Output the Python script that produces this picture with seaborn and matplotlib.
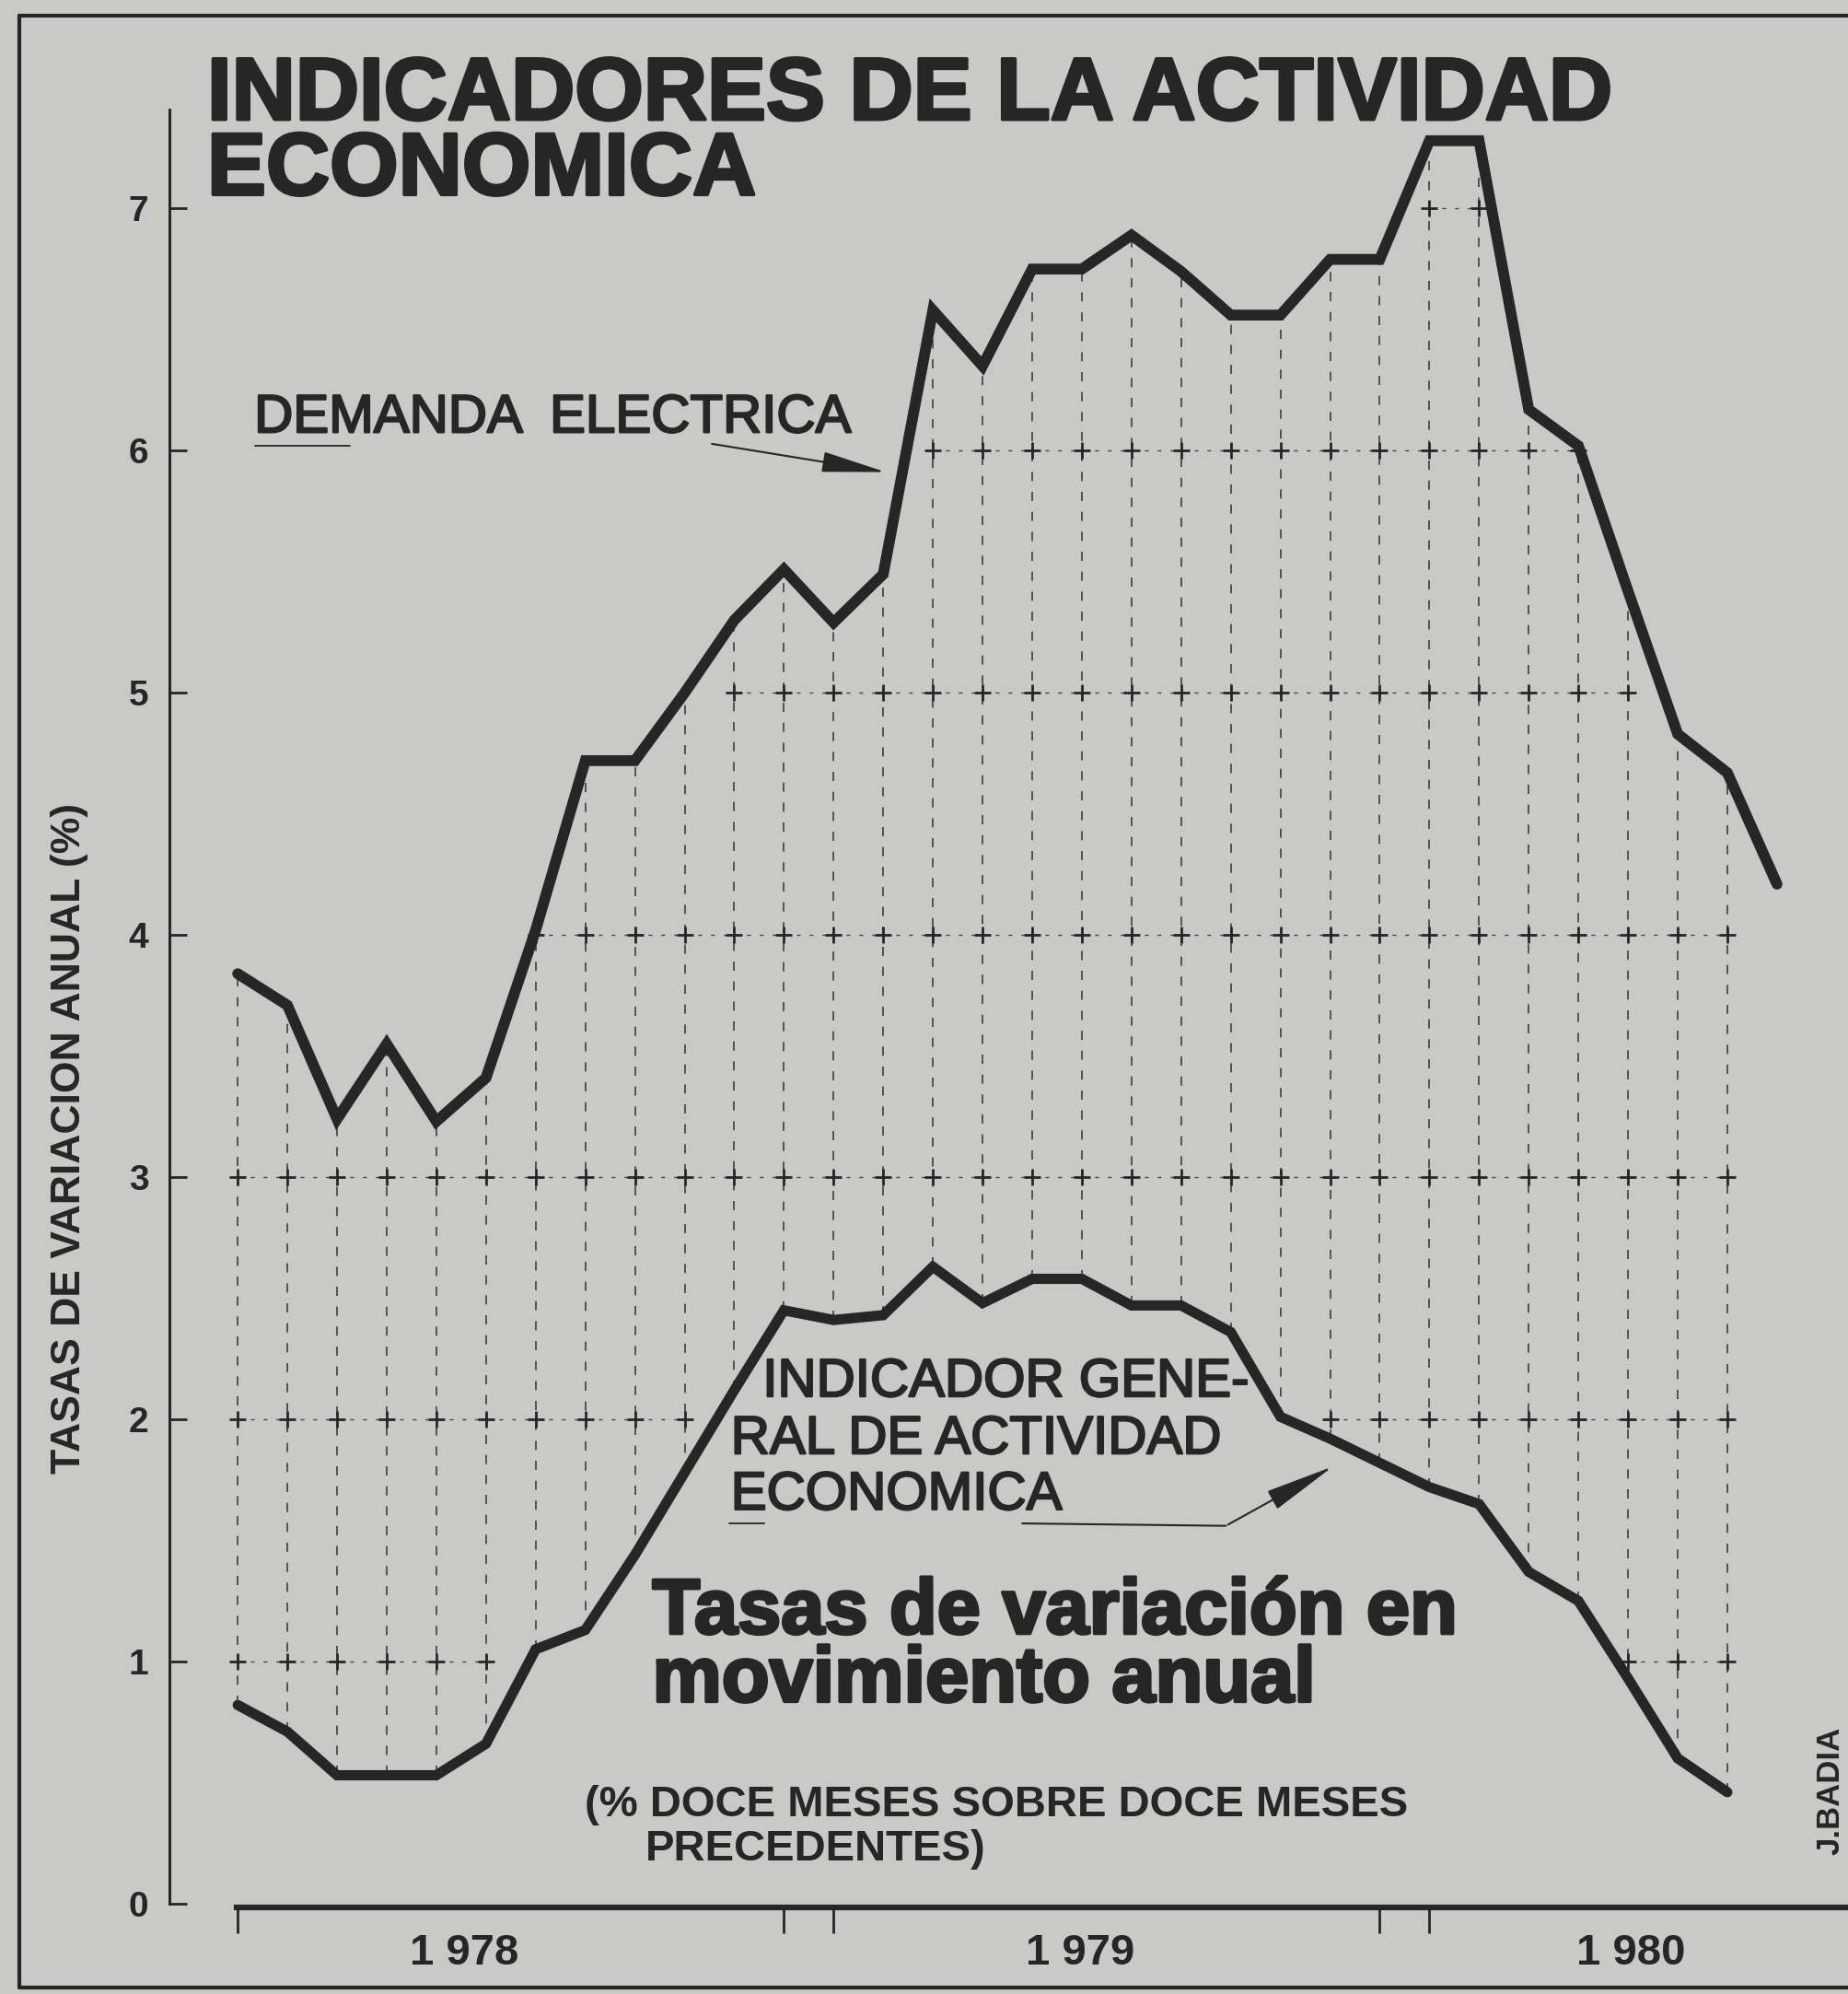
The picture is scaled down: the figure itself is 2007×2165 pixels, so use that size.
import numpy as np
import pandas as pd
import seaborn as sns
import matplotlib.pyplot as plt
import matplotlib.patheffects as pe

# monthly data, Jan 1978 onwards
months = pd.date_range("1978-01-01", periods=32, freq="MS")

demanda = [3.84, 3.71, 3.24, 3.55, 3.23, 3.41, 4.02, 4.72, 4.72, 5.00, 5.30, 5.51,
           5.29, 5.49, 6.58, 6.35, 6.75, 6.75, 6.89, 6.74, 6.56, 6.56, 6.79, 6.79,
           7.28, 7.28, 6.17, 6.02, 5.42, 4.83, 4.67, 4.21]

indicador = [0.82, 0.71, 0.53, 0.53, 0.53, 0.66, 1.05, 1.13, 1.44, 1.78, 2.12, 2.45,
             2.41, 2.43, 2.63, 2.48, 2.58, 2.58, 2.47, 2.47, 2.36, 2.01, 1.92, 1.82,
             1.72, 1.65, 1.37, 1.25, 0.93, 0.60, 0.46]

y_ticks = [0, 1, 2, 3, 4, 5, 6, 7]
year_labels = ["1 978", "1 979", "1 980"]
year_pos = [4.56, 16.97, 28.05]
year_ticks = [0, 11, 12, 23, 24]

bg = "#c9c9c7"
ink = "#262626"

sns.set_style("white")
plt.rcParams["font.family"] = ["Liberation Sans", "DejaVu Sans"]

df_dem = pd.DataFrame({"x": np.arange(len(demanda)), "y": demanda})
df_ind = pd.DataFrame({"x": np.arange(len(indicador)), "y": indicador})

fig = plt.figure(figsize=(20.07, 21.65), dpi=100)
fig.patch.set_facecolor(bg)
ax = fig.add_axes([0.0915, 0.0332, 0.9085, 0.9533])
ax.set_facecolor("none")

# hand drawn guide grid between the two curves
for i in range(len(indicador)):
    lo, hi = indicador[i], demanda[i]
    ax.vlines(i, lo, hi, colors=ink, linestyles=(0, (6, 7)), lw=1.2, alpha=0.85, zorder=1)
    for k in y_ticks[1:]:
        if lo < k < hi:
            ax.plot(i, k, marker="+", ms=13, mew=2, color=ink, zorder=1)
            if i + 1 < len(indicador) and indicador[i + 1] < k < demanda[i + 1]:
                ax.hlines(k, i, i + 1, colors=ink, linestyles=(0, (3, 7)), lw=1, alpha=0.8, zorder=1)

sns.lineplot(data=df_dem, x="x", y="y", ax=ax, color=ink, lw=8.5, zorder=3,
             solid_joinstyle="miter", solid_capstyle="round")
sns.lineplot(data=df_ind, x="x", y="y", ax=ax, color=ink, lw=8, zorder=3,
             solid_joinstyle="miter", solid_capstyle="round")

ax.set_xlim(-1.382, 32.43)
ax.set_ylim(-0.1, 7.75)
ax.set_xlabel("")
ax.set_ylabel("")

for s in ["top", "right"]:
    ax.spines[s].set_visible(False)
ax.spines["left"].set_bounds(0, 7.41)
ax.spines["left"].set_linewidth(2.2)
ax.spines["left"].set_color(ink)
ax.spines["bottom"].set_position(("data", -0.015))
ax.spines["bottom"].set_bounds(-0.03, 32.43)
ax.spines["bottom"].set_linewidth(4.5)
ax.spines["bottom"].set_color(ink)

ax.set_yticks(y_ticks)
ax.set_yticklabels([str(v) for v in y_ticks], fontsize=28, fontweight="bold", color=ink)
ax.tick_params(axis="y", direction="in", length=14, width=2, color=ink, pad=16, left=True)

ax.set_xticks(year_ticks)
ax.set_xticklabels([""] * len(year_ticks))
ax.tick_params(axis="x", which="major", direction="out", length=20, width=2, color=ink, bottom=True)
ax.set_xticks(year_pos, minor=True)
ax.set_xticklabels(year_labels, minor=True, fontsize=34, fontweight="bold", color=ink)
ax.tick_params(axis="x", which="minor", length=0, pad=20)

# labels and arrows
ax.annotate("", xy=(13.1, 5.91), xytext=(9.5, 6.03),
            arrowprops=dict(arrowstyle="-|>,head_length=2.2,head_width=0.35",
                            mutation_scale=20, lw=1.5, color=ink))
ax.plot([0.35, 2.25], [6.02, 6.02], color=ink, lw=1.3)

ax.plot([15.8, 19.9], [1.57, 1.56], color=ink, lw=1.5)
ax.annotate("", xy=(22.1, 1.81), xytext=(19.9, 1.56),
            arrowprops=dict(arrowstyle="-|>,head_length=2.4,head_width=0.35",
                            mutation_scale=20, lw=1.5, color=ink))
ax.plot([9.9, 10.6], [1.57, 1.57], color=ink, lw=1.3)

heavy = [pe.withStroke(linewidth=2.5, foreground=ink)]
medium = [pe.withStroke(linewidth=1.6, foreground=ink)]

# va="baseline" on multi-line text sits on the last line
fig.text(0.1121, 0.9024, "INDICADORES DE LA ACTIVIDAD\nECONOMICA", fontsize=69,
         fontweight="bold", color=ink, va="baseline", linespacing=0.88, path_effects=heavy)

fig.text(0.1376, 0.7832, "DEMANDA  ELECTRICA", fontsize=42, color=ink, path_effects=medium)

fig.text(0.4127, 0.2997, "INDICADOR GENE-", fontsize=42, color=ink, path_effects=medium)
fig.text(0.3955, 0.2710, "RAL DE ACTIVIDAD", fontsize=42, color=ink, path_effects=medium)
fig.text(0.3955, 0.2430, "ECONOMICA", fontsize=42, color=ink, path_effects=medium)

fig.text(0.3530, 0.1467, "Tasas de variación en\nmovimiento anual", fontsize=61,
         fontweight="bold", color=ink, va="baseline", linespacing=0.9, path_effects=heavy)

fig.text(0.3164, 0.0893, "(% DOCE MESES SOBRE DOCE MESES", fontsize=34, fontweight="bold", color=ink)
fig.text(0.3494, 0.0670, "PRECEDENTES)", fontsize=34, fontweight="bold", color=ink)

fig.text(0.9904, 0.1020, "J.BADIA", fontsize=25, fontweight="bold", color=ink,
         rotation=90, ha="center", va="center")
fig.text(0.0378, 0.4292, "TASAS DE VARIACION ANUAL (%)", fontsize=32, fontweight="bold",
         color=ink, rotation=90, ha="center", va="center")

# frame of the newspaper box
fig.add_artist(plt.Line2D([0.0103, 0.0103], [0.0032, 0.9923], color=ink, lw=3))
fig.add_artist(plt.Line2D([0.0103, 1.0], [0.9923, 0.9923], color=ink, lw=3))
fig.add_artist(plt.Line2D([0.0103, 1.0], [0.0032, 0.0032], color=ink, lw=3))

fig.savefig("out.png", dpi=100, facecolor=bg)
